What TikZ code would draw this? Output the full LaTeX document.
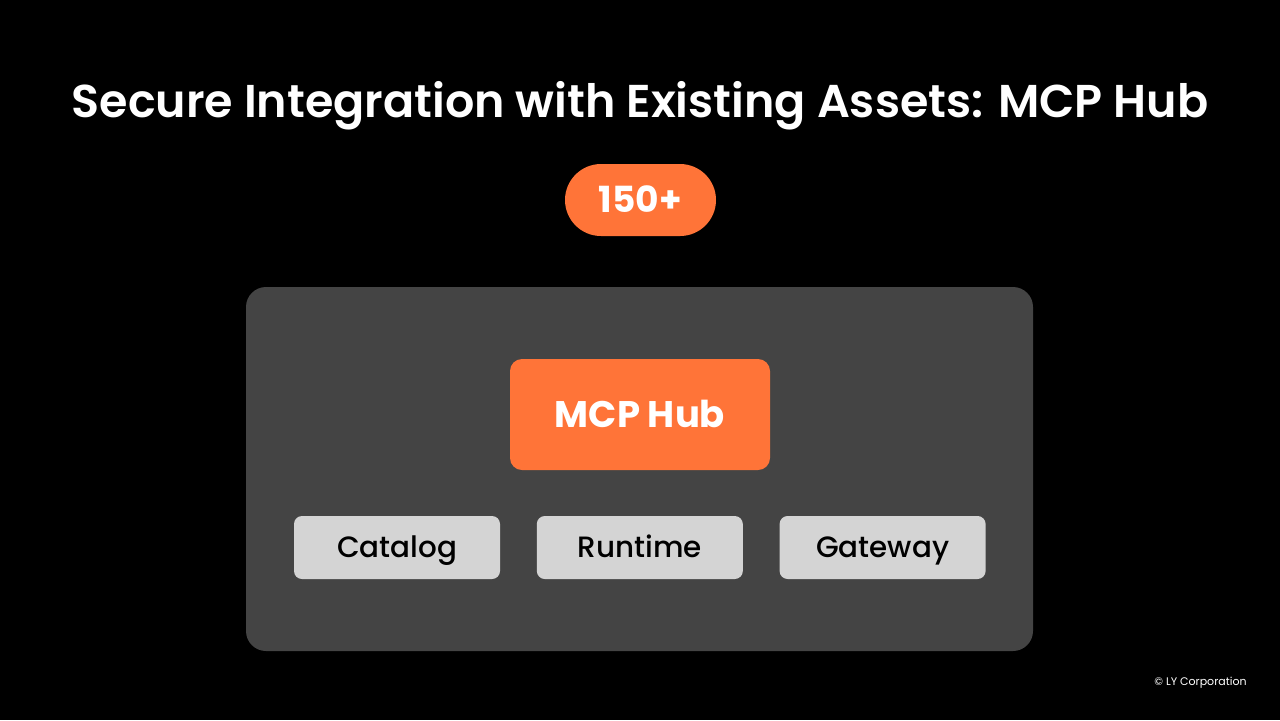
\documentclass[tikz,border=0pt]{standalone}
\usepackage{fontspec}
\setmainfont{Poppins}
\newfontfamily\popsemi{Poppins SemiBold}
\newfontfamily\popmed{Poppins Medium}
\usepackage{xcolor}
\usetikzlibrary{positioning}
\definecolor{hubOrange}{HTML}{FF7438}
\definecolor{panelGrey}{HTML}{444444}
\definecolor{chipGrey}{HTML}{D4D4D4}

\begin{document}
\begin{tikzpicture}[x=0.5pt,y=-0.5pt,
  chip/.style={fill=chipGrey,rounded corners=4pt,minimum width=103pt,minimum height=31.5pt,inner sep=0pt,text height=10.3pt,text depth=0pt,font=\popmed\fontsize{14.7}{16}\selectfont,text=black}]
\fill[black] (0,0) rectangle (1280,720);
\useasboundingbox (0,0) rectangle (1280,720);
\node[text=white,inner sep=0pt,text height=16.1pt,text depth=0pt,font=\popsemi\fontsize{23}{28}\selectfont] (title) at (640,101.5) {Secure Integration with Existing Assets: MCP Hub};
\node[fill=hubOrange,rounded corners=18pt,minimum width=75.5pt,minimum height=36pt,inner sep=0pt,text height=12.6pt,text depth=0pt,text=white,font=\bfseries\fontsize{18}{20}\selectfont] (count) at (640.5,200) {150+};
% grey panel holding the hub
\node[fill=panelGrey,rounded corners=10pt,minimum width=393.5pt,minimum height=182pt,inner sep=0pt] (panel) at (639.5,469) {};
\node[fill=hubOrange,rounded corners=6pt,minimum width=130pt,minimum height=55.5pt,inner sep=0pt,text height=12.9pt,text depth=0pt,text=white,font=\bfseries\fontsize{18.5}{20}\selectfont] (hub) at (640,414.5) {MCP Hub};
\node[chip] (catalog) at (397,547.5) {Catalog};
\node[chip,right=18pt of catalog] (runtime) {Runtime};
\node[chip,right=18pt of runtime] (gateway) {Gateway};
\node[anchor=east,inner sep=0pt,text=white,font=\fontsize{5.5}{6}\selectfont] (copyright) at (1247,683) {© LY Corporation};
\end{tikzpicture}
\end{document}
